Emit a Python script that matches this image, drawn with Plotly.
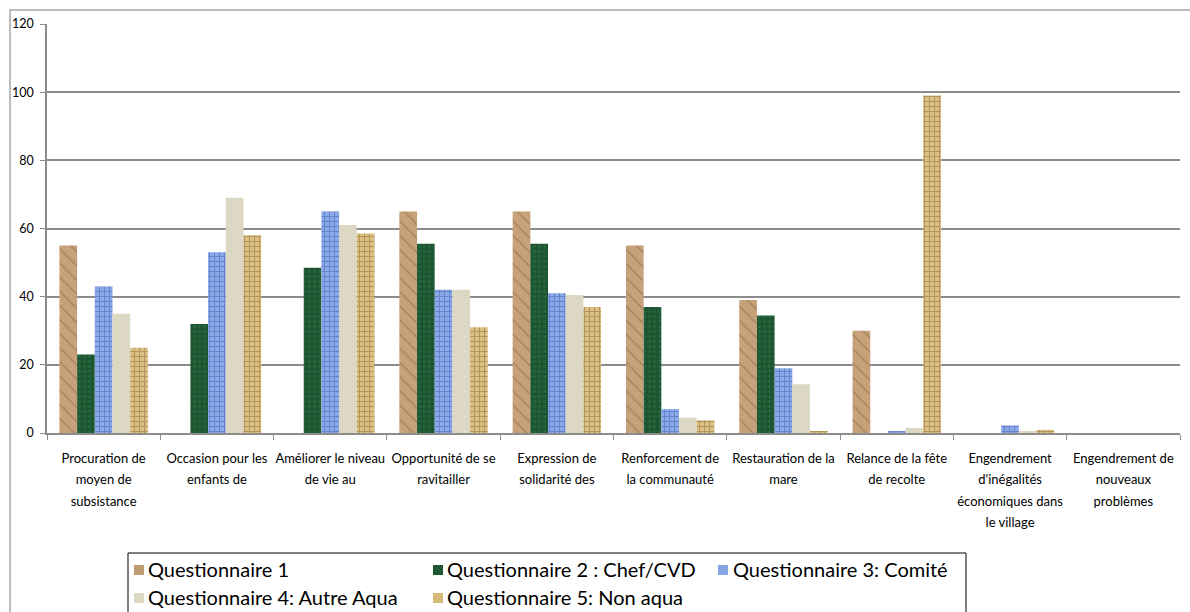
import plotly.graph_objects as go

# Categories (axis labels, wrapped on several lines)
categories = [
    "Procuration de<br>moyen de<br>subsistance",
    "Occasion pour les<br>enfants de",
    "Améliorer le niveau<br>de vie au",
    "Opportunité de se<br>ravitailler",
    "Expression de<br>solidarité des",
    "Renforcement de<br>la communauté",
    "Restauration de la<br>mare",
    "Relance de la fête<br>de recolte",
    "Engendrement<br>d'inégalités<br>économiques dans<br>le village",
    "Engendrement de<br>nouveaux<br>problèmes",
]

series_names = [
    "Questionnaire 1",
    "Questionnaire 2 : Chef/CVD",
    "Questionnaire 3: Comité",
    "Questionnaire 4: Autre Aqua",
    "Questionnaire 5: Non aqua",
]

q1_values = [55, 0, 0, 65, 65, 55, 39, 30, 0, 0]
q2_values = [23, 32, 48.5, 55.5, 55.5, 37, 34.5, 0, 0, 0]
q3_values = [43, 53, 65, 42, 41, 7, 19, 0.3, 2.2, 0]
q4_values = [35, 69, 61, 42, 40.5, 4.5, 14.3, 1.5, 0.6, 0]
q5_values = [25, 58, 58.5, 31, 37, 3.7, 0.3, 99, 0.9, 0]

y_ticks = [0, 20, 40, 60, 80, 100, 120]

# Textured fills for each series: base colour + pattern
base_colors = ["#c09a72", "#1e5832", "#86a5e4", "#ddd8c3", "#d6ba7a"]
patterns = [
    dict(shape="\\", fgcolor="#8f6640", bgcolor="#c6a17a", size=10, solidity=0.15),
    dict(shape=".", fgcolor="#2f7447", bgcolor="#1c5530", size=5, solidity=0.35),
    dict(shape="+", fgcolor="#3d5db0", bgcolor="#8aa9e8", size=5, solidity=0.35),
    None,
    dict(shape="+", fgcolor="#87672e", bgcolor="#dcc083", size=5, solidity=0.35),
]

all_values = [q1_values, q2_values, q3_values, q4_values, q5_values]

FONT = "Lato, Carlito, Calibri, sans-serif"

fig = go.Figure()
for name, vals, col, pat in zip(series_names, all_values, base_colors, patterns):
    marker = dict(color=col, line=dict(width=0))
    if pat:
        marker["pattern"] = pat
    fig.add_trace(go.Bar(x=categories, y=vals, name=name, marker=marker))

W, H = 1190, 612
m_l, m_r, m_t, m_b = 47, 10, 24, 179
plot_w = W - m_l - m_r
plot_h = H - m_t - m_b


def px_x(px):
    return (px - m_l) / plot_w


def px_y(py):
    return (m_t + plot_h - py) / plot_h


# Category labels: a large base size gives the roomy line spacing,
# the glyphs themselves are drawn at a smaller size
tick_text = [
    "<br>".join('<span style="font-size:13px">%s</span>' % part for part in c.split("<br>"))
    for c in categories
]

fig.update_layout(
    width=W,
    height=H,
    margin=dict(l=m_l, r=m_r, t=m_t, b=m_b, pad=0),
    paper_bgcolor="white",
    plot_bgcolor="white",
    barmode="group",
    bargap=0.22,
    bargroupgap=0,
    font=dict(family=FONT, color="#000000", size=13),
    showlegend=False,
    xaxis=dict(
        type="category",
        automargin=False,
        showgrid=False,
        showline=True,
        linecolor="#8c8c8c",
        linewidth=2,
        ticks="outside",
        tickson="boundaries",
        ticklen=5,
        tickcolor="#8c8c8c",
        tickangle=0,
        tickmode="array",
        tickvals=categories,
        ticktext=tick_text,
        tickfont=dict(family=FONT, size=16.5, color="#000000"),
        ticklabelstandoff=8,
        fixedrange=True,
    ),
    yaxis=dict(
        automargin=False,
        range=[0, 120],
        tickvals=y_ticks,
        showgrid=True,
        gridcolor="#8c8c8c",
        gridwidth=1.5,
        showline=True,
        linecolor="#8c8c8c",
        linewidth=1.5,
        ticks="outside",
        ticklen=5,
        tickcolor="#8c8c8c",
        tickfont=dict(family=FONT, size=12.5, color="#000000"),
        zeroline=False,
        ticklabelstandoff=4,
        fixedrange=True,
    ),
)

# Chart frame (light grey outline around the whole chart)
fig.add_shape(
    type="rect", xref="paper", yref="paper",
    x0=px_x(10), x1=px_x(W + 20), y0=px_y(H + 20), y1=px_y(10),
    line=dict(color="#a6a6a6", width=1.5),
    fillcolor="rgba(0,0,0,0)", layer="below",
)

# Legend box with its entries (three columns, two rows)
fig.add_shape(
    type="rect", xref="paper", yref="paper",
    x0=px_x(128), x1=px_x(966), y0=px_y(H + 20), y1=px_y(553),
    line=dict(color="#000000", width=1),
    fillcolor="white", layer="above",
)
col_symbol_x = [134, 433, 718]
col_text_x = [146, 445, 731]
row_y = [569, 597]
for i, (name, col) in enumerate(zip(series_names, base_colors)):
    r, c = divmod(i, 3)
    sx, ty = col_symbol_x[c], row_y[r]
    fig.add_shape(
        type="rect", xref="paper", yref="paper",
        x0=px_x(sx), x1=px_x(sx + 10), y0=px_y(ty + 6), y1=px_y(ty - 4),
        line=dict(width=0), fillcolor=col, layer="above",
    )
    fig.add_annotation(
        xref="paper", yref="paper",
        x=px_x(col_text_x[c]), y=px_y(ty),
        xanchor="left", yanchor="middle",
        text=name, showarrow=False,
        font=dict(family=FONT, size=20, color="#000000"),
    )

fig.write_html("out.html")
